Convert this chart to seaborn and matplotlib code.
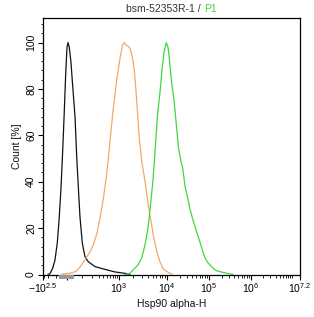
import numpy as np
import pandas as pd
import matplotlib
matplotlib.use("Agg")
import matplotlib.pyplot as plt
import matplotlib.transforms as mtransforms
from matplotlib.patches import Rectangle
import seaborn as sns

# ---------------- data (fluorescence value, count %) ----------------
black_x = [-208, -174, -136, -108, -83, -64, -48, -34, -21, -10, 0, 6,
           13, 23, 33, 48, 59, 70, 82, 100, 123, 156, 241, 442, 793, 1334, 1696]
black_y = [0, 0.4, 2.7, 6.2, 13.6, 24.8, 37.7, 53.6, 70.8, 86.8, 98.0, 100,
           98.0, 91.5, 81.6, 67.8, 50.6, 37.7, 24.8, 13.6, 7.7, 5.5, 3.4, 2.2, 1.1, 0.5, 0.1]

orange_x = [-40, 17, 54, 82, 133, 175, 220, 273, 328, 399, 488, 592, 718, 875,
            1049, 1183, 1290, 1399, 1577, 1736, 1893, 2083, 2337, 2648, 3015,
            3481, 4020, 4532, 5183, 6101, 7148, 8375, 10740, 13150]
orange_y = [0.2, 0.6, 1.3, 3.2, 7.1, 9.7, 13.1, 17.9, 24.3, 32.5, 43.3, 57.5, 71.7, 83.8,
            93.2, 98.9, 100, 98.9, 98.4, 97.1, 93.7, 88.5, 75.1, 58.7, 48.0,
            40.3, 30.8, 24.3, 17.0, 10.1, 5.4, 2.4, 0.9, 0.2]

green_x = [1334, 1696, 2054, 2488, 2971, 3481, 4020, 4532, 5109, 5760, 6341, 7148,
           7865, 8660, 9670, 10563, 11469, 12941, 14678, 16650, 18784, 21202, 23646,
           26827, 30773, 35289, 40913, 49036, 58749, 70795, 80320, 94660, 117900,
           146780, 193070, 283500, 372800]
green_y = [0, 0.5, 2.4, 4.1, 7.1, 12.7, 20.0, 29.9, 40.7, 55.8, 68.7, 78.6,
           88.1, 95.8, 100, 98.0, 92.4, 82.5, 75.2, 64.8, 54.5, 49.4, 45.9,
           38.1, 33.4, 28.2, 23.9, 19.2, 14.9, 10.1, 7.1, 5.0, 3.2,
           1.7, 1.1, 0.4, 0]

x_ticks = [-10 ** 2.5, 0, 1e3, 1e4, 1e5, 1e6, 10 ** 7.2]
x_ticklabels = [r"$-10^{2.5}$", "", r"$10^{3}$", r"$10^{4}$", r"$10^{5}$", r"$10^{6}$", r"$10^{7.2}$"]
y_ticks = [0, 20, 40, 60, 80, 100]
title_main = "bsm-52353R-1 /"
title_gate = "P1"
x_label = "Hsp90 alpha-H"
y_label = "Count [%]"

# ---------------- biexponential-like axis scale ----------------
_S = np.array([-5.2983, -1.8680, 0.0, 2.9982, 5.2983, 7.6009, 9.9035, 12.6665, 19.114])
_P = np.array([-1.1, 43.0, 67.0, 119.0, 167.0, 209.0, 251.0, 300.0, 414.3])


def _fwd(x):
    x = np.asarray(x, dtype=float)
    return np.interp(np.arcsinh(x / 100.0), _S, _P)


def _inv(p):
    p = np.asarray(p, dtype=float)
    return 100.0 * np.sinh(np.interp(p, _P, _S))


# ---------------- figure ----------------
sns.set_style("ticks")
plt.rcParams["font.family"] = ["Liberation Sans", "DejaVu Sans"]
plt.rcParams["mathtext.fontset"] = "custom"
plt.rcParams["mathtext.rm"] = "Liberation Sans"
plt.rcParams["mathtext.it"] = "Liberation Sans"
plt.rcParams["mathtext.bf"] = "Liberation Sans"

fig = plt.figure(figsize=(3.14, 3.17), dpi=100)
ax = fig.add_axes([43 / 314, 42.5 / 317, 257 / 314, 256.5 / 317])

df = pd.concat([
    pd.DataFrame({"x": black_x, "count": black_y, "sample": "ctrl"}),
    pd.DataFrame({"x": orange_x, "count": orange_y, "sample": "iso"}),
    pd.DataFrame({"x": green_x, "count": green_y, "sample": "P1"}),
])
palette = {"ctrl": "#111111", "iso": "#F2A86A", "P1": "#3FD93F"}
sns.lineplot(data=df, x="x", y="count", hue="sample", palette=palette,
             estimator=None, sort=False, legend=False, linewidth=0.9, ax=ax)

ax.set_xscale("function", functions=(_fwd, _inv))
ax.set_xlim(-10 ** 2.5, 10 ** 7.2)
ax.set_ylim(0, 110.6)

ax.set_xticks(x_ticks, x_ticklabels)
minor_x = [-300, -200, -100, 100, 200, 300, 400, 500, 600, 700, 800, 900]
for k in range(3, 7):
    minor_x += [m * 10 ** k for m in range(2, 10)]
minor_x += [1e7]
ax.set_xticks(minor_x, minor=True)
ax.set_yticks(y_ticks)
ax.set_yticks(np.arange(0, 110, 4), minor=True)

for s in ["top", "right", "left", "bottom"]:
    ax.spines[s].set_visible(True)
    ax.spines[s].set_color("black")
    ax.spines[s].set_linewidth(0.9)

ax.tick_params(axis="both", which="major", length=3.5, width=0.8, color="black",
               labelsize=7.5, labelcolor="black", pad=1.5)
ax.tick_params(axis="both", which="minor", length=1.8, width=0.6, color="black")
ax.tick_params(axis="y", labelrotation=90)
for lab in ax.get_yticklabels():
    lab.set_va("center")

# zero marker band below the axis
trans = mtransforms.blended_transform_factory(ax.transData, ax.transAxes)
ax.add_patch(Rectangle((-64, -0.018), 107, 0.018, transform=trans,
                       facecolor="#999999", edgecolor="none", clip_on=False, zorder=5))

ax.set_xlabel(x_label, fontsize=7.5, labelpad=3, color="#111111")
ax.set_ylabel(y_label, fontsize=7.5, labelpad=3, color="#111111")

fig.text(201 / 314, 1 - 8.5 / 317, title_main, ha="right", va="center",
         fontsize=7.5, color="#333333")
fig.text(204.5 / 314, 1 - 8.5 / 317, title_gate, ha="left", va="center",
         fontsize=7.5, color="#3FD93F")

fig.savefig("out.png", dpi=100)
